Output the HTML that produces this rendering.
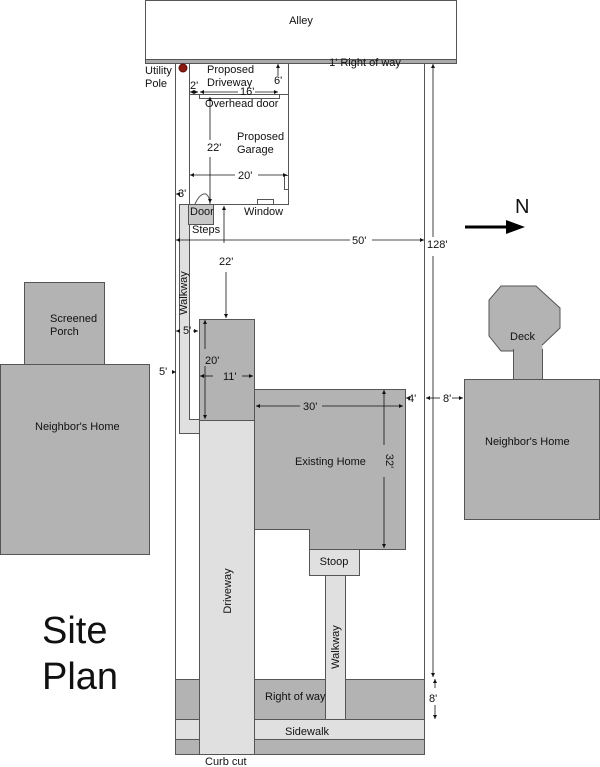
<!DOCTYPE html>
<html><head><meta charset="utf-8"><style>
html,body{margin:0;padding:0;background:#fff;}
svg{display:block;font-family:"Liberation Sans",Arial,sans-serif;}
text{font-size:11px;fill:#111;}
</style></head><body>
<svg width="600" height="767" viewBox="0 0 600 767" xmlns="http://www.w3.org/2000/svg">
<defs>
<marker id="a" viewBox="0 0 6 6" refX="6" refY="3" markerWidth="5" markerHeight="5" orient="auto-start-reverse"><path d="M0,0L6,3L0,6z" fill="#111"/></marker>
</defs>
<g stroke="#555" stroke-width="1">
<!-- alley -->
<rect x="145.5" y="0.5" width="311" height="59" fill="#fff"/>
<rect x="145.5" y="59.5" width="311" height="4" fill="#aaa"/>
<!-- lot -->
<line x1="175.5" y1="63" x2="175.5" y2="754"/>
<line x1="424.5" y1="63" x2="424.5" y2="754"/>
<!-- right of way / sidewalk -->
<rect x="175.5" y="679.5" width="249" height="40" fill="#b3b3b3"/>
<rect x="175.5" y="719.5" width="249" height="20" fill="#e0e0e0"/>
<rect x="175.5" y="739.5" width="249" height="15" fill="#b3b3b3"/>
<!-- driveway -->
<rect x="199.5" y="420.5" width="55" height="334" fill="#e0e0e0"/>
<!-- walkway side -->
<path d="M179.5,204.5H189.5V419.5H199.5V433.5H179.5Z" fill="#e0e0e0"/>
<!-- house wing -->
<rect x="199.5" y="319.5" width="55" height="101" fill="#b3b3b3"/>
<!-- existing home -->
<path d="M254.5,389.5H405.5V549.5H309.5V529.5H254.5Z" fill="#b3b3b3"/>
<rect x="309.5" y="549.5" width="50" height="26" fill="#e0e0e0"/>
<rect x="325.5" y="575.5" width="20" height="144" fill="#e0e0e0"/>
<!-- garage -->
<rect x="189.5" y="94.5" width="99" height="110" fill="#fff"/>
<line x1="189.5" y1="63" x2="189.5" y2="94"/>
<line x1="288.5" y1="63" x2="288.5" y2="94"/>
<rect x="199.5" y="94.5" width="80" height="4" fill="#fff"/>
<rect x="284.5" y="175.5" width="4" height="14" fill="#fff"/>
<rect x="257.5" y="199.5" width="16" height="5" fill="#fff"/>
<rect x="188.5" y="204.5" width="25" height="20" fill="#c8c8c8"/>
<path d="M195,204 Q200,193 206,194 Q210,197 210,204" fill="#fff"/>
<!-- neighbors -->
<rect x="24.5" y="282.5" width="80" height="82" fill="#b3b3b3"/>
<rect x="0.5" y="364.5" width="149" height="190" fill="#b3b3b3"/>
<path d="M501,286H536L560,308V328L536,351H501L489,336V300Z" fill="#b3b3b3"/>
<rect x="513.5" y="345" width="29" height="35" fill="#b3b3b3" stroke="none"/>
<line x1="513.5" y1="349" x2="513.5" y2="380"/><line x1="542.5" y1="349" x2="542.5" y2="380"/>
<rect x="464.5" y="379.5" width="135" height="140" fill="#b3b3b3"/>
</g>
<circle cx="183" cy="68" r="4" fill="#8b1a10" stroke="#5a0f08"/>
<!-- dimensions -->
<g stroke="#111" stroke-width="0.8" fill="none">
<line x1="190" y1="92" x2="198" y2="92" marker-start="url(#a)" marker-end="url(#a)"/>
<line x1="200" y1="92" x2="238" y2="92" marker-start="url(#a)"/>
<line x1="255" y1="92" x2="278" y2="92" marker-end="url(#a)"/>
<line x1="278" y1="64" x2="278" y2="76" marker-start="url(#a)"/>
<line x1="210" y1="97" x2="210" y2="140" marker-start="url(#a)"/>
<line x1="210" y1="157" x2="210" y2="203" marker-end="url(#a)"/>
<line x1="190" y1="175" x2="235" y2="175" marker-start="url(#a)"/>
<line x1="258" y1="175" x2="287" y2="175" marker-end="url(#a)"/>
<line x1="176" y1="194" x2="178" y2="194" marker-start="url(#a)"/>
<line x1="224" y1="206" x2="224" y2="243" marker-start="url(#a)"/>
<line x1="176" y1="240" x2="350" y2="240" marker-start="url(#a)"/>
<line x1="372" y1="240" x2="424" y2="240" marker-end="url(#a)"/>
<line x1="433" y1="64" x2="433" y2="237" marker-start="url(#a)"/>
<line x1="433" y1="256" x2="433" y2="677" marker-end="url(#a)"/>
<line x1="226" y1="272" x2="226" y2="318" marker-end="url(#a)"/>
<line x1="176" y1="331" x2="180" y2="331" marker-start="url(#a)"/>
<line x1="193" y1="331" x2="198" y2="331" marker-end="url(#a)"/>
<line x1="176" y1="372" x2="172" y2="372" marker-start="url(#a)"/>
<line x1="205" y1="320" x2="205" y2="349" marker-start="url(#a)"/>
<line x1="205" y1="366" x2="205" y2="419" marker-end="url(#a)"/>
<line x1="200" y1="376" x2="213" y2="376" marker-start="url(#a)"/>
<line x1="242" y1="376" x2="253" y2="376" marker-end="url(#a)"/>
<line x1="256" y1="406" x2="300" y2="406" marker-start="url(#a)"/>
<line x1="322" y1="406" x2="403" y2="406" marker-end="url(#a)"/>
<line x1="384" y1="390" x2="384" y2="445" marker-start="url(#a)"/>
<line x1="384" y1="477" x2="384" y2="548" marker-end="url(#a)"/>
<line x1="406" y1="398" x2="408" y2="398" marker-start="url(#a)"/>
<line x1="440" y1="398" x2="426" y2="398" marker-end="url(#a)"/>
<line x1="452" y1="398" x2="463" y2="398" marker-end="url(#a)"/>
<line x1="435" y1="688" x2="435" y2="679" marker-end="url(#a)"/>
<line x1="435" y1="705" x2="435" y2="719" marker-end="url(#a)"/>
</g>
<line x1="465" y1="227" x2="510" y2="227" stroke="#000" stroke-width="3"/>
<path d="M506,220L525,227L506,234Z" fill="#000"/>
<!-- labels -->
<text x="301" y="24" text-anchor="middle">Alley</text>
<text x="365" y="66" text-anchor="middle">1' Right of way</text>
<text x="145" y="74">Utility</text><text x="145" y="87">Pole</text>
<text x="207" y="73">Proposed</text><text x="207" y="86">Driveway</text>
<text x="190" y="89">2'</text>
<text x="274" y="84">6'</text>
<text x="240" y="95">16'</text>
<text x="205" y="107">Overhead door</text>
<text x="237" y="140">Proposed</text><text x="237" y="153">Garage</text>
<text x="207" y="151">22'</text>
<text x="238" y="179">20'</text>
<text x="178" y="197">3'</text>
<text x="190" y="215">Door</text>
<text x="244" y="215">Window</text>
<text x="192" y="233">Steps</text>
<text x="352" y="244">50'</text>
<text x="427" y="248">128'</text>
<text x="219" y="265">22'</text>
<text x="187" y="293" transform="rotate(-90 187 293)" text-anchor="middle">Walkway</text>
<text x="183" y="334">5'</text>
<text x="205" y="364">20'</text>
<text x="223" y="380">11'</text>
<text x="159" y="375">5'</text>
<text x="303" y="410">30'</text>
<text x="408" y="402">4'</text>
<text x="443" y="402">8'</text>
<text x="386" y="461" transform="rotate(90 386 461)" text-anchor="middle">32'</text>
<text x="295" y="465">Existing Home</text>
<text x="334" y="565" text-anchor="middle">Stoop</text>
<text x="231" y="591" transform="rotate(-90 231 591)" text-anchor="middle">Driveway</text>
<text x="339" y="647" transform="rotate(-90 339 647)" text-anchor="middle">Walkway</text>
<text x="265" y="700">Right of way</text>
<text x="285" y="735">Sidewalk</text>
<text x="205" y="765">Curb cut</text>
<text x="429" y="702">8'</text>
<text x="50" y="322">Screened</text><text x="50" y="335">Porch</text>
<text x="35" y="430">Neighbor's Home</text>
<text x="510" y="340">Deck</text>
<text x="485" y="445">Neighbor's Home</text>
<text x="515" y="213" style="font-size:20px">N</text>
<text x="42" y="643" style="font-size:38px">Site</text>
<text x="42" y="689" style="font-size:38px">Plan</text>
</svg>
</body></html>
